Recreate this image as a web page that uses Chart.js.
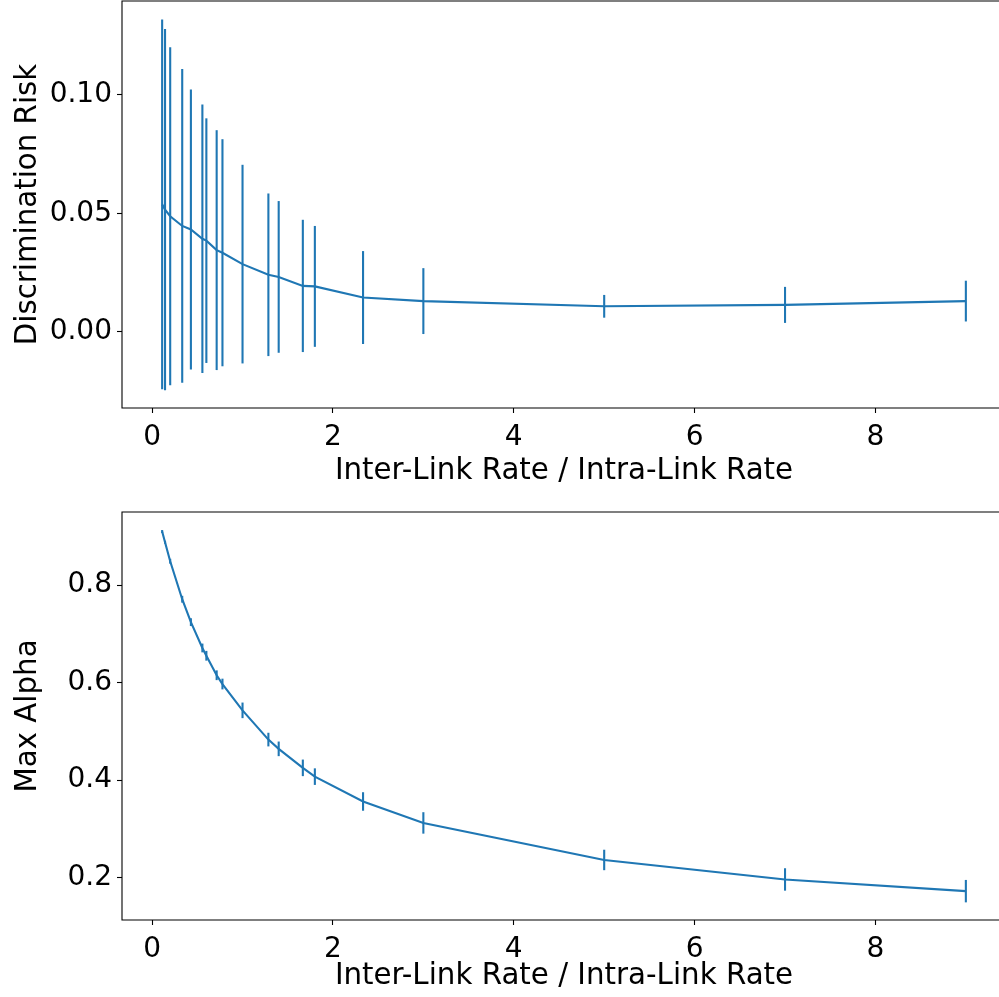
<!DOCTYPE html>
<html>
<head>
<meta charset="utf-8">
<script src="https://cdn.jsdelivr.net/npm/chart.js@4/dist/chart.umd.min.js"></script>
<style>
html,body{margin:0;padding:0;background:#fff;overflow:hidden;width:999px;height:997px;}
.box{position:absolute;left:0;width:999px;overflow:hidden;}
#topBox{top:0;height:490px;}
#botBox{top:490px;height:507px;}
</style>
</head>
<body>
<div class="box" id="topBox"><canvas id="riskChart" width="1010" height="490"></canvas></div>
<div class="box" id="botBox"><canvas id="alphaChart" width="1010" height="507"></canvas></div>
<script>
// DATA
const ratios=[0.111,0.143,0.2,0.333,0.429,0.556,0.6,0.714,0.778,1,1.286,1.4,1.667,1.8,2.333,3,5,7,9];
const riskMean=[0.0538,0.0516,0.0488,0.0447,0.0432,0.0393,0.0385,0.0345,0.0334,0.0286,0.0241,0.0232,0.0194,0.0192,0.0145,0.0130,0.0108,0.0114,0.0130];
const riskErr=[0.0780,0.0762,0.0713,0.0662,0.0591,0.0566,0.0516,0.0506,0.0479,0.0419,0.0343,0.0320,0.0279,0.0255,0.0196,0.0139,0.0048,0.0076,0.0086];
const alphaMean=[0.910,0.888,0.849,0.771,0.724,0.671,0.655,0.615,0.597,0.543,0.483,0.464,0.425,0.407,0.356,0.312,0.236,0.196,0.172];
const alphaErr=[0.003,0.003,0.005,0.007,0.008,0.009,0.010,0.010,0.011,0.016,0.014,0.015,0.017,0.017,0.019,0.022,0.021,0.023,0.023];
const xTicks=[0,2,4,6,8];
const riskTicks=[0,0.05,0.10];
const alphaTicks=[0.2,0.4,0.6,0.8];

const xLabel="Inter-Link Rate / Intra-Link Rate";
const BLUE="#1f77b4";
const TICKFONT={family:"'DejaVu Sans', sans-serif",size:28};
const LABELFONT={family:"'DejaVu Sans', sans-serif",size:29.3};

// spines: left, top, bottom (the right one is cut off in the picture)
const frame={
  id:"frame",
  afterDatasetsDraw(c){
    const a=c.chartArea, ctx=c.ctx;
    ctx.save();
    ctx.strokeStyle="#000";
    ctx.lineWidth=1.1;
    ctx.beginPath();
    ctx.moveTo(a.right,a.top);ctx.lineTo(a.left,a.top);
    ctx.lineTo(a.left,a.bottom);ctx.lineTo(a.right,a.bottom);
    ctx.stroke();
    ctx.restore();
  }
};

function makeChart(canvas,means,errs,o){
  // one small line dataset per error bar, then the mean line
  let bars=ratios.map((x,i)=>({
    data:[{x:x,y:means[i]-errs[i]},{x:x,y:means[i]+errs[i]}],
    borderColor:BLUE,borderWidth:2.1,pointRadius:0,borderCapStyle:"butt"
  }));
  let line={
    data:ratios.map((x,i)=>({x:x,y:means[i]})),
    borderColor:BLUE,borderWidth:2.1,pointRadius:0,tension:0
  };

  return new Chart(canvas,{
    type:"line",
    data:{datasets:[...bars,line]},
    plugins:[frame],
    options:{
      responsive:false,
      animation:false,
      layout:{padding:{top:o.padTop,left:0,right:4,bottom:0}},
      plugins:{legend:{display:false},tooltip:{enabled:false}},
      scales:{
        x:{
          type:"linear",min:-0.333,max:9.444,
          afterBuildTicks:s=>{s.ticks=xTicks.map(v=>({value:v}));},
          afterFit:s=>{s.height=o.xHeight;s.paddingLeft=0;s.paddingRight=0;},
          grid:{drawOnChartArea:false,drawTicks:true,tickLength:5,tickWidth:1.1,tickColor:"#000"},
          border:{display:false},
          ticks:{color:"#000",font:TICKFONT,padding:8,maxRotation:0,callback:v=>String(v)},
          title:{display:true,text:xLabel,color:"#000",font:LABELFONT,padding:{top:0,bottom:o.titlePad}}
        },
        y:{
          type:"linear",min:o.yMin,max:o.yMax,
          afterBuildTicks:s=>{s.ticks=o.yTicks.map(v=>({value:v}));},
          afterFit:s=>{s.width=122;s.paddingTop=0;s.paddingBottom=0;},
          grid:{drawOnChartArea:false,drawTicks:true,tickLength:5,tickWidth:1.1,tickColor:"#000"},
          border:{display:false},
          ticks:{color:"#000",font:TICKFONT,padding:5,callback:v=>v.toFixed(o.digits)},
          title:{display:true,text:o.yLabel,color:"#000",font:LABELFONT,padding:{top:11,bottom:0}}
        }
      }
    }
  });
}

makeChart(document.getElementById("riskChart"),riskMean,riskErr,{
  padTop:1,xHeight:82,titlePad:1.5,
  yMin:-0.0321,yMax:0.1396,yTicks:riskTicks,digits:2,yLabel:"Discrimination Risk"
});

makeChart(document.getElementById("alphaChart"),alphaMean,alphaErr,{
  padTop:22,xHeight:77,titlePad:3.5,
  yMin:0.1128,yMax:0.950,yTicks:alphaTicks,digits:1,yLabel:"Max Alpha"
});
</script>
</body>
</html>
